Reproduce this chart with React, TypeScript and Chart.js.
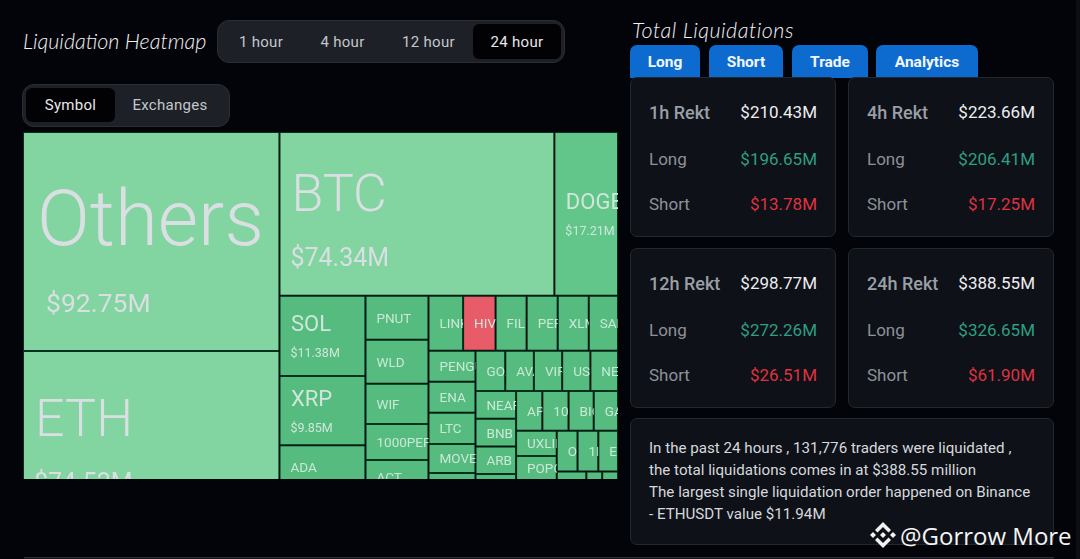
import React, { useEffect, useRef } from "react";
import { Chart, registerables, DatasetController } from "chart.js";

const symbols = ["Others","ETH","BTC","DOGE","SOL","XRP","ADA","SUI","PNUT","WLD","WIF","1000PEPE","ACT","AAVE","LINK","HIVE","FIL","PEPE","XLM","SAND","PENGU","ENA","LTC","MOVE","ONDO","TIA","GOAT","AVAX","VIRTUAL","USUAL","NEIRO","NEAR","BNB","ARB","ALGO","DOT","APT","1000BONK","BIO","GALA","UXLINK","POPCAT","ME","RUNE","OP","1INCH","EIGEN","TRX","SEI","INJ","HBAR"];
const liquidations = [92.75,74.52,74.34,17.21,11.38,9.85,6.2,5.41,4.58,4.58,4.17,3.75,3.65,3.33,3.14,2.95,2.82,2.82,2.82,2.65,2.41,2.41,2.41,2.25,2.18,2.02,1.98,1.91,1.88,1.88,1.84,1.86,1.86,1.83,1.8,1.76,1.72,1.72,1.65,1.59,1.7,1.65,1.62,1.5,1.4,1.4,1.33,1.4,1.3,1.45,1.45];
const groupLengths = [2,2,4,6,6,6,5,5,4,4,3,2,2];
const shortHeavy = ["HIVE"];
const hourTabs = ["1 hour","4 hour","12 hour","24 hour"];
const scopeTabs = ["Symbol","Exchanges"];
const actionTabs = ["Long","Short","Trade","Analytics"];
const windows = ["1h Rekt","4h Rekt","12h Rekt","24h Rekt"];
const totals = ["$210.43M","$223.66M","$298.77M","$388.55M"];
const longs = ["$196.65M","$206.41M","$272.26M","$326.65M"];
const shorts = ["$13.78M","$17.25M","$26.51M","$61.90M"];
const summary = ["In the past 24 hours , 131,776 traders were liquidated ,","the total liquidations comes in at $388.55 million","The largest single liquidation order happened on Binance","- ETHUSDT value $11.94M"];

const LAYOUT_W = 595, LAYOUT_H = 395, VISIBLE_H = 347;

function layoutCells() {
  const total = liquidations.reduce((a, b) => a + b, 0);
  const k = (LAYOUT_W * LAYOUT_H) / total;
  let x = 0, y = 0, w = LAYOUT_W, h = LAYOUT_H, idx = 0;
  const cells: any[] = [];
  for (const len of groupLengths) {
    const vals = liquidations.slice(idx, idx + len);
    const area = vals.reduce((a, b) => a + b, 0) * k;
    if (h < w) {
      const cw = area / h;
      let cy = y;
      vals.forEach((v, i) => {
        const ch = (v * k) / cw;
        cells.push({ x: x + cw / 2, y: cy, base: cy + ch, w: cw, name: symbols[idx + i], value: v });
        cy += ch;
      });
      x += cw; w -= cw;
    } else {
      const ch = area / w;
      let cx = x;
      vals.forEach((v, i) => {
        const cw = (v * k) / ch;
        cells.push({ x: cx + cw / 2, y, base: y + ch, w: cw, name: symbols[idx + i], value: v });
        cx += cw;
      });
      y += ch; h -= ch;
    }
    idx += len;
  }
  return cells;
}

function cellColor(c: any) {
  if (shortHeavy.includes(c.name)) return "#e85b68";
  if (c.value >= 50) return "#82d4a0";
  if (c.value >= 15) return "#62c68a";
  return "#55bb7e";
}

const noSkip = { top: false, left: false, bottom: false, right: false };

class TreemapCellsController extends DatasetController {
  static id = "treemapCells";
  static defaults = { dataElementType: "bar", datasetElementType: false };
  update() {
    const meta: any = (this as any)._cachedMeta;
    (this as any).updateElements(meta.data, 0, meta.data.length, "none");
  }
  updateElements(rects: any[], start: number, count: number, mode: any) {
    const meta: any = (this as any)._cachedMeta;
    const data = (this as any).getDataset().data;
    for (let i = start; i < start + count; i++) {
      const c = data[i];
      const left = meta.xScale.getPixelForValue(c.x - c.w / 2);
      const right = meta.xScale.getPixelForValue(c.x + c.w / 2);
      (this as any).updateElement(rects[i], i, {
        x: (left + right) / 2,
        y: meta.yScale.getPixelForValue(c.y),
        base: meta.yScale.getPixelForValue(c.base),
        width: right - left,
        horizontal: false,
        borderSkipped: noSkip,
        enableBorderRadius: false,
        inflateAmount: 0,
        options: { backgroundColor: cellColor(c), borderColor: "#07301d", borderWidth: 1, borderRadius: 0 },
      }, mode);
    }
  }
  draw() {
    const meta: any = (this as any)._cachedMeta;
    const ctx = (this as any).chart.ctx;
    meta.data.forEach((el: any) => el.draw(ctx));
  }
}

function tier(v: number) {
  if (v >= 90) return { label: 78, weight: 300, val: 26.5, dl: -16, dv: 64, pad: 14, vpad: 23, color: "#d9dfe2" };
  if (v >= 70) return { label: 52, weight: 300, val: 25, dl: -16, dv: 46, pad: 12, vpad: 11, color: "#d9dfe2" };
  if (v >= 9) return { label: 22, weight: 400, val: 12.5, dl: -10, dv: 18, pad: 11.5, vpad: 11, color: "#cfe6da" };
  return { label: 13.5, weight: 400, val: 0, dl: 1.5, dv: 0, pad: 11, vpad: 11, color: "#c9e8d6" };
}

const cellLabels = {
  id: "cellLabels",
  afterDatasetsDraw(chart: any) {
    const ctx = chart.ctx;
    const meta = chart.getDatasetMeta(0);
    const data = chart.data.datasets[0].data;
    meta.data.forEach((el: any, i: number) => {
      const c = data[i];
      const t = tier(c.value);
      const left = el.x - el.width / 2;
      const right = el.x + el.width / 2;
      const cy = (el.y + el.base) / 2;
      ctx.save();
      ctx.beginPath();
      ctx.rect(left, el.y, right - left, el.base - el.y);
      ctx.clip();
      ctx.fillStyle = t.color;
      ctx.textBaseline = "middle";
      ctx.textAlign = "left";
      ctx.font = `${t.weight} ${t.label}px Roboto, sans-serif`;
      ctx.fillText(c.name, left + t.pad, cy + t.dl);
      if (t.val) {
        ctx.font = `400 ${t.val}px Roboto, sans-serif`;
        ctx.fillText(`$${c.value.toFixed(2)}M`, left + t.vpad, cy + t.dv);
      }
      ctx.restore();
    });
  },
};

Chart.register(...registerables, TreemapCellsController, cellLabels);

const abs = (left: number, top: number, width: number, height: number, extra: any = {}) => ({
  position: "absolute", left, top, width, height, boxSizing: "border-box", ...extra,
}) as React.CSSProperties;

const centerText = { display: "flex", alignItems: "center", justifyContent: "center" };

function Tabs({ labels, xs, widths, top, height, active }: any) {
  return labels.map((t: string, i: number) => (
    <div key={t} style={abs(xs[i], top, widths[i], height, {
      ...centerText, fontSize: 15, color: i === active ? "#e6e8ea" : "#c3c7cc",
      background: i === active ? "#020204" : "transparent", borderRadius: 6, letterSpacing: 0.3,
    })}>{t}</div>
  ));
}

function Card({ i, left, top }: any) {
  const row = (y: number, text: string, value: string, color: string, lc: string, lw: number, fs: number) => (
    <>
      <div style={abs(18, y - 13, 90, 24, { display: "flex", alignItems: "center", color: lc, fontSize: fs, fontWeight: lw, whiteSpace: "nowrap" })}>{text}</div>
      <div style={abs(70, y - 13, 116, 24, { display: "flex", alignItems: "center", justifyContent: "flex-end", color, fontSize: 17, whiteSpace: "nowrap" })}>{value}</div>
    </>
  );
  return (
    <div style={abs(left, top, 206, 160, { background: "#0e1118", border: "1px solid #23272e", borderRadius: 7 })}>
      {row(35, windows[i], totals[i], "#eceef0", "#9a9fa6", 500, 18)}
      {row(82, "Long", longs[i], "#2f9e83", "#8d9198", 400, 17)}
      {row(127, "Short", shorts[i], "#df3340", "#8d9198", 400, 17)}
    </div>
  );
}

export default function App() {
  const ref = useRef<HTMLCanvasElement>(null);
  useEffect(() => {
    const chart = new Chart(ref.current as any, {
      type: "treemapCells" as any,
      data: { labels: symbols, datasets: [{ data: layoutCells(), parsing: false } as any] },
      options: {
        animation: false,
        responsive: false,
        devicePixelRatio: 1,
        layout: { padding: 0 },
        events: [],
        plugins: { legend: { display: false }, tooltip: { enabled: false } },
        scales: {
          x: { type: "linear", min: 0, max: LAYOUT_W, display: false },
          y: { type: "linear", min: 0, max: VISIBLE_H, reverse: true, display: false },
        },
      } as any,
    });
    return () => chart.destroy();
  }, []);
  const ui = "Roboto, sans-serif";
  const hand = { fontFamily: "'Lato', sans-serif", fontWeight: 300, fontStyle: "italic", fontSize: 21.5, color: "#f2f2f2", whiteSpace: "nowrap" };
  return (
    <div style={{ position: "relative", width: 1080, height: 559, background: "#03040a", overflow: "hidden", fontFamily: ui }}>
      <style>{`html,body{margin:0;padding:0;background:#03040a;overflow:hidden}`}</style>
      <div style={abs(23, 28, 190, 28, hand)}>Liquidation Heatmap</div>
      <div style={abs(217, 20, 348, 43, { background: "#1d2027", border: "1px solid #2a2d34", borderRadius: 12 })} />
      <Tabs labels={hourTabs} xs={[221, 301, 384, 473]} widths={[80, 83, 89, 88]} top={24} height={35} active={3} />
      <div style={abs(22, 84, 208, 43, { background: "#1d2027", border: "1px solid #2a2d34", borderRadius: 12 })} />
      <Tabs labels={scopeTabs} xs={[26, 115]} widths={[89, 110]} top={88} height={34} active={0} />
      <canvas ref={ref} width={595} height={347} style={{ position: "absolute", left: 23, top: 132, width: 595, height: 347 }} />

      <div style={abs(632, 17, 190, 28, { ...hand, letterSpacing: 0.5 })}>Total Liquidations</div>
      {actionTabs.map((t, i) => (
        <div key={t} style={abs([630, 709, 792, 876][i], 45, [70, 74, 76, 102][i], 33, {
          ...centerText, background: "#0d6bcf", borderRadius: "7px 7px 0 0", color: "#f2f6fb", fontWeight: 700, fontSize: 15.5,
        })}>{t}</div>
      ))}
      <Card i={0} left={630} top={77} />
      <Card i={1} left={848} top={77} />
      <Card i={2} left={630} top={248} />
      <Card i={3} left={848} top={248} />
      <div style={abs(630, 418, 424, 127, { background: "#0e1118", border: "1px solid #23272e", borderRadius: 7 })} />
      {summary.map((s, i) => (
        <div key={i} style={abs(649, 437 + i * 22, 400, 22, { display: "flex", alignItems: "center", color: "#d6d9dd", fontSize: 15.15, whiteSpace: "nowrap" })}>{s}</div>
      ))}
      <div style={abs(24, 557, 1030, 4, { background: "#14171d", borderTop: "1px solid #2a2d33" })} />
      <div style={abs(1076, 0, 4, 559, { background: "#0c0e13" })} />
      <svg style={abs(869, 521, 28, 28)} viewBox="0 0 28 28">
        <g fill="#f2f2f2">
          <path d="M14 1L22 9L19.5 11.5L14 6L8.5 11.5L6 9z" />
          <path d="M14 27L22 19L19.5 16.5L14 22L8.5 16.5L6 19z" />
          <path d="M1 14l3-3 3 3-3 3z" />
          <path d="M27 14l-3-3-3 3 3 3z" />
          <path d="M14 11l3 3-3 3-3-3z" />
        </g>
      </svg>
      <div style={abs(900, 520, 176, 30, { display: "flex", alignItems: "center", color: "#f4f4f4", fontSize: 24, fontFamily: "'Open Sans', sans-serif", whiteSpace: "nowrap" })}>@Gorrow More</div>
    </div>
  );
}
